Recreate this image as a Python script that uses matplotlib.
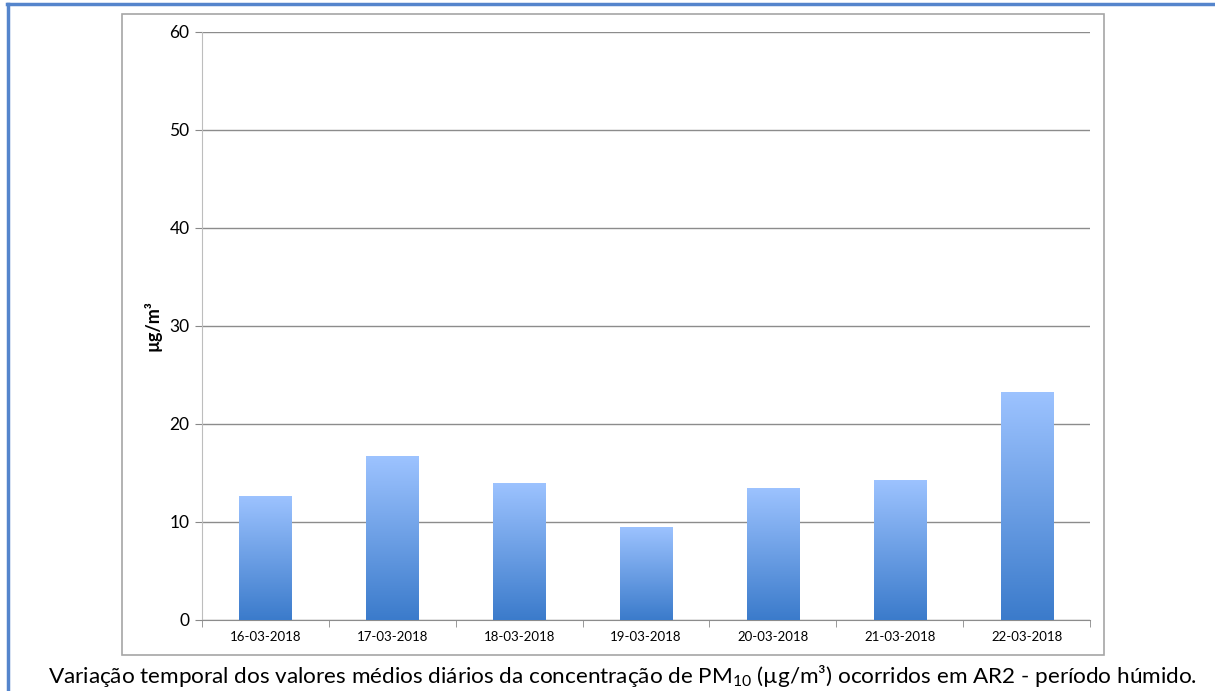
import numpy as np
import matplotlib
matplotlib.use("Agg")
import matplotlib.pyplot as plt
from matplotlib.patches import Rectangle
from matplotlib.lines import Line2D
from matplotlib.colors import LinearSegmentedColormap

# Dados: PM10 medio diario em AR2 (periodo humido)
dates = ["16-03-2018", "17-03-2018", "18-03-2018", "19-03-2018",
         "20-03-2018", "21-03-2018", "22-03-2018"]
pm10 = [12.7, 16.7, 14.0, 9.5, 13.5, 14.3, 23.3]
y_ticks = [0, 10, 20, 30, 40, 50, 60]

plt.rcParams["font.family"] = ["Lato", "DejaVu Sans"]
plt.rcParams["mathtext.default"] = "regular"

W, H = 1215, 691
fig = plt.figure(figsize=(W / 100, H / 100), dpi=100)

def px(x0, y0, x1, y1):
    # pixel box -> figure fraction [left, bottom, width, height]
    return [x0 / W, 1 - y1 / H, (x1 - x0) / W, (y1 - y0) / H]

ax = fig.add_axes(px(202, 32, 1090, 620))

x = np.arange(len(dates))
bars = ax.bar(x, pm10, width=0.41, color="none", edgecolor="none", zorder=3)

# gradiente vertical dentro das barras
cmap = LinearSegmentedColormap.from_list("grad", ["#3B7BCB", "#9DC3FF"])
grad = np.linspace(0, 1, 256).reshape(-1, 1)
for b in bars:
    x0, w, h = b.get_x(), b.get_width(), b.get_height()
    im = ax.imshow(grad, cmap=cmap, origin="lower", aspect="auto",
                   extent=[x0, x0 + w, 0, h], zorder=3)
    im.set_clip_path(b)

ax.set_xlim(-0.5, len(dates) - 0.5)
ax.set_ylim(0, 60)
ax.set_yticks(y_ticks)
ax.set_yticklabels([str(v) for v in y_ticks], fontsize=12.5)
ax.set_xticks(x)
ax.set_xticklabels(dates, fontsize=9.5)
ax.set_xticks(np.arange(len(dates) + 1) - 0.5, minor=True)
ax.tick_params(axis="x", which="major", length=0, pad=8)
ax.tick_params(axis="x", which="minor", length=5, color="#888888", direction="out")
ax.tick_params(axis="y", length=5, color="#888888", pad=4)

ax.grid(axis="y", color="#8c8c8c", linewidth=1, zorder=0)
for s in ("top", "right"):
    ax.spines[s].set_visible(False)
ax.spines["left"].set_color("#bdbdbd")
ax.spines["bottom"].set_color("#8c8c8c")

ax.set_ylabel("µg/m³", fontsize=13, fontweight="bold", labelpad=6)

# moldura do grafico (cinza)
fig.patches.append(Rectangle((122 / W, 1 - 655 / H), (1104 - 122) / W, (655 - 14) / H,
                             transform=fig.transFigure, fill=False,
                             edgecolor="#a6a6a6", linewidth=1.2))
# moldura azul (topo e esquerda)
fig.lines.append(Line2D([8 / W, 8 / W], [0, 1 - 4 / H], transform=fig.transFigure,
                        color="#5585CC", linewidth=2.5))
fig.lines.append(Line2D([7 / W, 1], [1 - 4 / H, 1 - 4 / H], transform=fig.transFigure,
                        color="#5585CC", linewidth=2.5))

fig.text(622 / W, 1 - 676 / H,
         "Variação temporal dos valores médios diários da concentração de "
         "PM$_{10}$ (µg/m³) ocorridos em AR2 - período húmido.",
         ha="center", va="center", fontsize=16.2)

fig.savefig("out.png", dpi=100)
